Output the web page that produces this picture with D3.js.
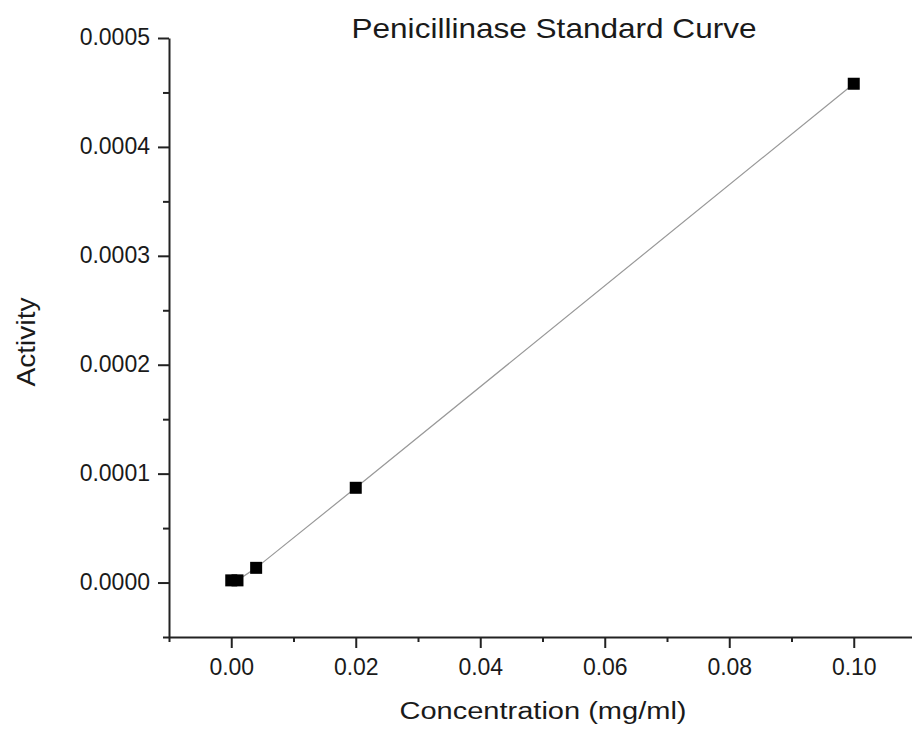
<!DOCTYPE html>
<html>
<head>
<meta charset="utf-8">
<script src="https://cdn.jsdelivr.net/npm/d3@7"></script>
<style>
  body { margin: 0; background: #fff; }
  text { font-family: "Liberation Sans", Arial, sans-serif; fill: #1a1a1a; }
</style>
</head>
<body>
<div id="chart"></div>
<script>
// data
var concentration = [0.000, 0.001, 0.004, 0.020, 0.100];
var activity = [0.0000020, 0.0000020, 0.0000135, 0.0000870, 0.0004580];
var xTicks = [0.00, 0.02, 0.04, 0.06, 0.08, 0.10];
var yTicks = [0.0000, 0.0001, 0.0002, 0.0003, 0.0004, 0.0005];

var width = 912, height = 730;
var margin = {top: 38, right: -4, bottom: 93, left: 169};

var svg = d3.select("#chart").append("svg")
    .attr("width", width)
    .attr("height", height);

var x = d3.scaleLinear()
    .domain([-0.01, 0.11])
    .range([margin.left, width - margin.right]);

var y = d3.scaleLinear()
    .domain([-0.00005, 0.0005])
    .range([height - margin.bottom, margin.top]);

var axisColor = "#222";

// minor ticks
var xMinor = d3.range(-0.01, 0.115, 0.02);
var yMinor = d3.range(-0.00005, 0.0005, 0.0001);

var gx = svg.append("g").attr("transform", "translate(0," + y.range()[0] + ")");
gx.call(d3.axisBottom(x).tickValues(xMinor).tickSize(5).tickFormat(""));
gx.call(g => g.select(".domain").remove());
var gx2 = svg.append("g").attr("transform", "translate(0," + y.range()[0] + ")")
    .call(d3.axisBottom(x).tickValues(xTicks).tickSize(11).tickSizeOuter(0)
      .tickPadding(11).tickFormat(d3.format(".2f")));

var gy = svg.append("g").attr("transform", "translate(" + margin.left + ",0)");
gy.call(d3.axisLeft(y).tickValues(yMinor).tickSize(6).tickFormat(""));
gy.call(g => g.select(".domain").remove());
var gy2 = svg.append("g").attr("transform", "translate(" + margin.left + ",0)")
    .call(d3.axisLeft(y).tickValues(yTicks).tickSize(11).tickSizeOuter(0)
      .tickPadding(8).tickFormat(d3.format(".4f")));

svg.selectAll(".domain, .tick line")
    .attr("stroke", axisColor)
    .attr("stroke-width", 2);
svg.selectAll(".tick text")
    .style("font-family", "'Liberation Sans', Arial, sans-serif")
    .style("font-size", "23px")
    .attr("fill", "#1a1a1a");
gy2.selectAll(".tick text").attr("dy", "0.3em");

// connecting line
var pts = concentration.map(function(c, i) { return {x: c, y: activity[i]}; });
var line = d3.line()
    .x(function(d) { return x(d.x); })
    .y(function(d) { return y(d.y); });

svg.append("path")
    .datum(pts)
    .attr("d", line)
    .attr("fill", "none")
    .attr("stroke", "#999")
    .attr("stroke-width", 1.2);

var s = 12;
svg.selectAll(".pt")
    .data(pts).enter()
    .append("rect")
    .attr("class", "pt")
    .attr("x", function(d) { return x(d.x) - s / 2; })
    .attr("y", function(d) { return y(d.y) - s / 2; })
    .attr("width", s)
    .attr("height", s)
    .attr("fill", "#000");

// titles
svg.append("text")
    .attr("x", 554).attr("y", 38)
    .attr("text-anchor", "middle")
    .attr("textLength", 405)
    .attr("lengthAdjust", "spacingAndGlyphs")
    .style("font-size", "28px")
    .text("Penicillinase Standard Curve");

svg.append("text")
    .attr("x", 543).attr("y", 719)
    .attr("text-anchor", "middle")
    .attr("textLength", 287)
    .attr("lengthAdjust", "spacingAndGlyphs")
    .style("font-size", "23px")
    .text("Concentration (mg/ml)");

svg.append("text")
    .attr("transform", "translate(35,342) rotate(-90)")
    .attr("text-anchor", "middle")
    .attr("textLength", 89)
    .attr("lengthAdjust", "spacingAndGlyphs")
    .style("font-size", "26px")
    .text("Activity");
</script>
</body>
</html>
